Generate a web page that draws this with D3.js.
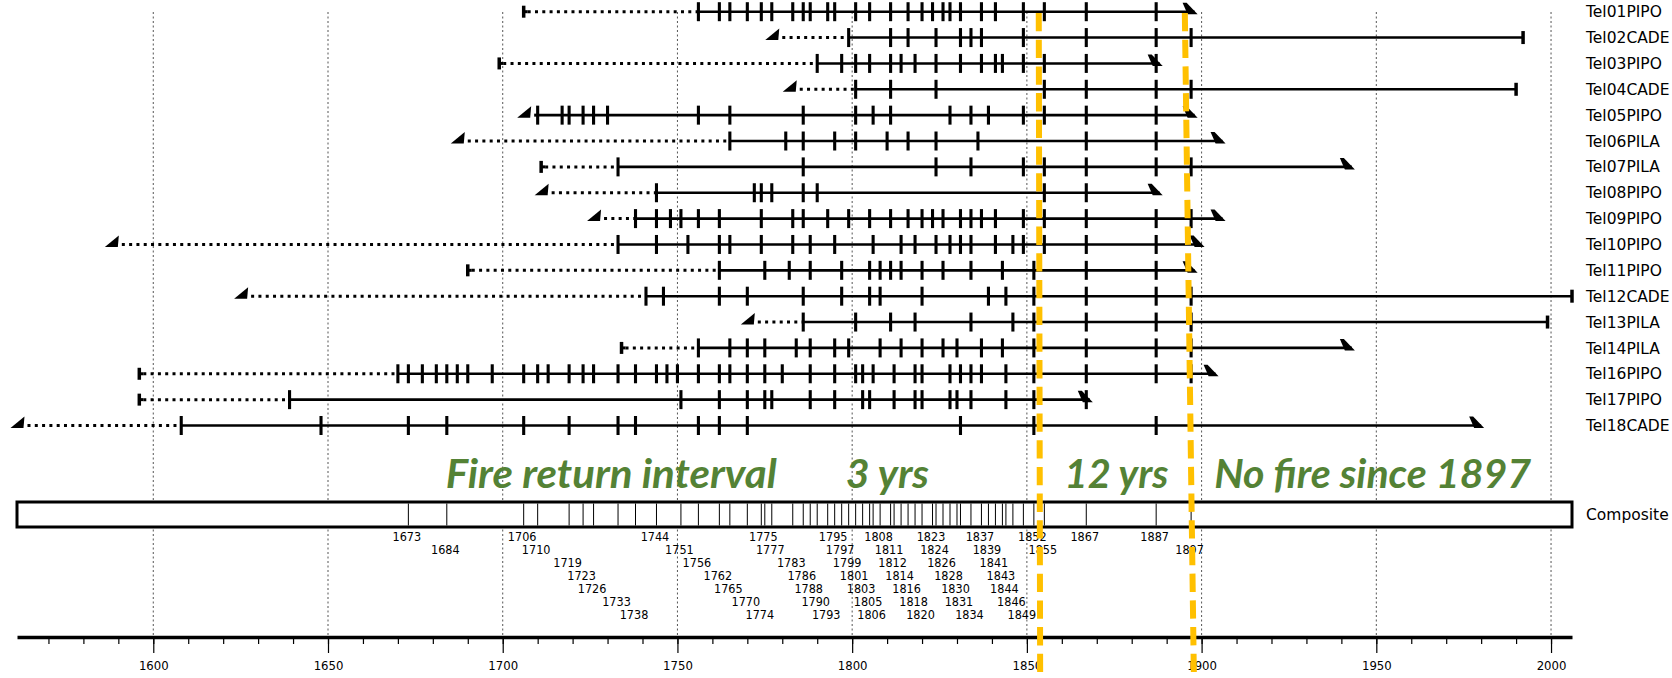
<!DOCTYPE html>
<html>
<head>
<meta charset="utf-8">
<script src="https://cdn.jsdelivr.net/npm/d3@7"></script>
<style>
  body { margin: 0; background: #fff; }
  svg { display: block; }
</style>
</head>
<body>
<div id="chart"></div>
<script>
// series, top to bottom
const seriesNames = ["Tel01PIPO", "Tel02CADE", "Tel03PIPO", "Tel04CADE", "Tel05PIPO", "Tel06PILA",
  "Tel07PILA", "Tel08PIPO", "Tel09PIPO", "Tel10PIPO", "Tel11PIPO", "Tel12CADE", "Tel13PILA",
  "Tel14PILA", "Tel16PIPO", "Tel17PIPO", "Tel18CADE"];
const innerYears = [1706, 1780, 1699, 1785, 1709, 1690, 1711, 1714, 1729, 1591, 1690, 1628, 1773, 1734, 1596, 1596, 1564];
const hasPith = [false, true, false, true, true, true, false, true, true, true, false, true, true, false, false, false, true];
const outerYears = [1898, 1992, 1888, 1990, 1898, 1906, 1943, 1888, 1906, 1900, 1898, 2006, 1999, 1943, 1904, 1868, 1980];
const hasBark = [false, true, false, true, false, false, false, false, false, false, false, true, true, false, false, false, false];
const fireScars = [
  [1756, 1762, 1765, 1770, 1774, 1777, 1783, 1786, 1788, 1793, 1795, 1801, 1805, 1811, 1816, 1820, 1823, 1826, 1828, 1831, 1837, 1841, 1849, 1855, 1867, 1887],
  [1799, 1811, 1816, 1824, 1831, 1834, 1837, 1849, 1867, 1887, 1897],
  [1790, 1797, 1801, 1805, 1811, 1814, 1818, 1824, 1831, 1837, 1841, 1843, 1849, 1855, 1867, 1887],
  [1801, 1811, 1824, 1855, 1867, 1887, 1897],
  [1710, 1717, 1719, 1723, 1726, 1730, 1756, 1765, 1786, 1801, 1806, 1811, 1828, 1834, 1839, 1849, 1855, 1867, 1887],
  [1765, 1781, 1786, 1795, 1801, 1810, 1816, 1824, 1836, 1867, 1887],
  [1733, 1786, 1824, 1834, 1849, 1855, 1867, 1887, 1897],
  [1744, 1772, 1774, 1777, 1786, 1790, 1855, 1867],
  [1738, 1744, 1748, 1751, 1756, 1762, 1774, 1783, 1786, 1793, 1799, 1805, 1811, 1816, 1820, 1823, 1826, 1831, 1834, 1837, 1841, 1849, 1855, 1867, 1887, 1897],
  [1733, 1744, 1753, 1762, 1765, 1774, 1783, 1788, 1795, 1806, 1814, 1818, 1824, 1828, 1831, 1834, 1841, 1846, 1849, 1855, 1867, 1887],
  [1762, 1775, 1782, 1788, 1797, 1805, 1808, 1811, 1814, 1820, 1826, 1834, 1843, 1852, 1867, 1887],
  [1741, 1746, 1762, 1770, 1786, 1797, 1805, 1808, 1820, 1839, 1844, 1852, 1867, 1887, 1897],
  [1786, 1801, 1811, 1818, 1834, 1846, 1852, 1867, 1887, 1897],
  [1756, 1765, 1770, 1775, 1784, 1788, 1795, 1799, 1808, 1814, 1820, 1826, 1830, 1837, 1843, 1852, 1867, 1887, 1897],
  [1670, 1673, 1677, 1681, 1684, 1687, 1690, 1697, 1706, 1710, 1713, 1719, 1723, 1726, 1733, 1738, 1744, 1747, 1750, 1756, 1762, 1765, 1770, 1775, 1780, 1788, 1795, 1801, 1803, 1806, 1812, 1818, 1820, 1828, 1831, 1834, 1837, 1844, 1852, 1867, 1887, 1897],
  [1639, 1751, 1762, 1770, 1775, 1777, 1788, 1795, 1803, 1805, 1812, 1818, 1820, 1828, 1830, 1834, 1844, 1852, 1867],
  [1608, 1648, 1673, 1684, 1706, 1719, 1733, 1738, 1756, 1762, 1770, 1831, 1852, 1887]
];
const compositeYears = [1673, 1684, 1706, 1710, 1719, 1723, 1726, 1733, 1738, 1744, 1751, 1756, 1762, 1765,
  1770, 1774, 1775, 1777, 1783, 1786, 1788, 1790, 1793, 1795, 1797, 1799, 1801, 1803, 1805, 1806, 1808,
  1811, 1812, 1814, 1816, 1818, 1820, 1823, 1824, 1826, 1828, 1830, 1831, 1834, 1837, 1839, 1841, 1843,
  1844, 1846, 1849, 1852, 1855, 1867, 1887, 1897];
// hand drawn orange markers: year at top, year at bottom
const markerYears = [[1853.4, 1853.8], [1895.2, 1897.8]];
const notes = ["Fire return interval", "3 yrs", "12 yrs", "No fire since 1897"];
const noteSpans = [[1683.7, 1778.4], [1798.2, 1822], [1860.8, 1890.5], [1903.6, 1994.3]];

const width = 1672, height = 678;
const svg = d3.select("#chart").append("svg")
  .attr("width", width)
  .attr("height", height);

const x = d3.scaleLinear().domain([1561, 2006]).range([17, 1572]);
const y = d3.scalePoint().domain(seriesNames).range([11.7, 425.5]);

const axisY = 637;
const boxTop = 502, boxBottom = 527;

// dotted grid every 50 years
svg.append("g")
  .selectAll("line")
  .data(d3.range(1600, 2001, 50))
  .join("line")
  .attr("x1", d => x(d)).attr("x2", d => x(d))
  .attr("y1", 12).attr("y2", axisY)
  .attr("stroke", "#555")
  .attr("stroke-width", 1)
  .attr("stroke-dasharray", "2,2.5");

// series
const rows = seriesNames.map((name, i) => ({
  name: name, inner: innerYears[i], pith: hasPith[i], outer: outerYears[i],
  bark: hasBark[i], scars: fireScars[i]
}));

const rowG = svg.append("g").selectAll("g")
  .data(rows)
  .join("g")
  .attr("transform", d => "translate(0," + y(d.name) + ")");

// non recording part
rowG.append("line")
  .attr("x1", d => x(d.inner) + (d.pith ? 0 : 4))
  .attr("x2", d => x(d.scars[0]))
  .attr("stroke", "#000")
  .attr("stroke-width", 3)
  .attr("stroke-dasharray", "3,4.3");

// recording part
rowG.append("line")
  .attr("x1", d => x(d.scars[0]))
  .attr("x2", d => x(d.outer))
  .attr("stroke", "#000")
  .attr("stroke-width", 2.6);

// fire scars
rowG.selectAll(".scar")
  .data(d => d.scars)
  .join("line")
  .attr("class", "scar")
  .attr("x1", d => x(d)).attr("x2", d => x(d))
  .attr("y1", -9.5).attr("y2", 9.5)
  .attr("stroke", "#000")
  .attr("stroke-width", 3.1);

// inner end: pith wedge or inner ring bar
rowG.filter(d => d.pith).append("path")
  .attr("d", d => {
    const px = x(d.inner);
    return `M${px - 17},2.5 L${px - 4},2.5 L${px - 3},-9 Z`;
  })
  .attr("fill", "#000");
rowG.filter(d => !d.pith).append("line")
  .attr("x1", d => x(d.inner)).attr("x2", d => x(d.inner))
  .attr("y1", -6).attr("y2", 6)
  .attr("stroke", "#000").attr("stroke-width", 3.5);
rowG.filter(d => !d.pith).append("line")
  .attr("x1", d => x(d.inner)).attr("x2", d => x(d.inner) + 4)
  .attr("stroke", "#000").attr("stroke-width", 3);

// outer end: bark bar or open wedge
rowG.filter(d => d.bark).append("line")
  .attr("x1", d => x(d.outer)).attr("x2", d => x(d.outer))
  .attr("y1", -6.5).attr("y2", 6.5)
  .attr("stroke", "#000").attr("stroke-width", 3.5);
rowG.filter(d => !d.bark).append("path")
  .attr("d", d => {
    const px = x(d.outer);
    return `M${px - 12},-9 L${px - 8},-9 L${px + 3},2.5 L${px - 7},2.5 Z`;
  })
  .attr("fill", "#000");

// series names
rowG.append("text")
  .attr("x", 1586)
  .attr("dy", "0.36em")
  .attr("font-family", "DejaVu Sans, Verdana, sans-serif")
  .attr("font-size", 15.5)
  .attr("fill", "#000")
  .text(d => d.name);

// composite
svg.append("rect")
  .attr("x", x(1561)).attr("y", boxTop)
  .attr("width", x(2006) - x(1561)).attr("height", boxBottom - boxTop)
  .attr("fill", "#fff")
  .attr("stroke", "#000")
  .attr("stroke-width", 3);

svg.append("g")
  .selectAll("line")
  .data(compositeYears)
  .join("line")
  .attr("x1", d => x(d)).attr("x2", d => x(d))
  .attr("y1", boxTop + 1.5).attr("y2", boxBottom - 1.5)
  .attr("stroke", "#000")
  .attr("stroke-width", 1);

svg.append("text")
  .attr("x", 1586).attr("y", (boxTop + boxBottom) / 2)
  .attr("dy", "0.36em")
  .attr("font-family", "DejaVu Sans, Verdana, sans-serif")
  .attr("font-size", 15.5)
  .text("Composite");

// stagger composite year labels over 7 rows
let row = 0;
const labelRows = compositeYears.map((yr, i) => {
  if (i === 0) return row;
  const gap = x(yr) - x(compositeYears[i - 1]);
  row = gap >= 40 ? 0 : (row + 1) % 7;
  return row;
});

svg.append("g")
  .selectAll("text")
  .data(compositeYears)
  .join("text")
  .attr("x", d => x(d) - 1.5)
  .attr("y", (d, i) => 536 + labelRows[i] * 13)
  .attr("dy", "0.36em")
  .attr("text-anchor", "middle")
  .attr("font-family", "DejaVu Sans Condensed, DejaVu Sans, sans-serif")
  .attr("font-stretch", "condensed")
  .attr("font-size", 12.5)
  .text(d => d);

// time axis
const minorAxis = svg.append("g")
  .attr("transform", "translate(0," + axisY + ")")
  .call(d3.axisBottom(x)
    .tickValues(d3.range(1570, 2001, 10))
    .tickSize(7)
    .tickSizeOuter(0)
    .tickFormat(""));
minorAxis.select(".domain").remove();
minorAxis.selectAll("line").attr("stroke-width", 1.2);

const majorAxis = svg.append("g")
  .attr("transform", "translate(0," + axisY + ")")
  .call(d3.axisBottom(x)
    .tickValues(d3.range(1600, 2001, 50))
    .tickSize(16)
    .tickSizeOuter(0)
    .tickPadding(8)
    .tickFormat(d3.format("d")));
majorAxis.select(".domain").attr("stroke-width", 3.5);
majorAxis.selectAll("line").attr("stroke-width", 1.2);
majorAxis.selectAll("text")
  .attr("font-family", "DejaVu Sans Condensed, DejaVu Sans, sans-serif")
  .attr("font-stretch", "condensed")
  .attr("font-size", 13)
  .attr("fill", "#000");

// annotations
svg.append("g")
  .selectAll("text")
  .data(notes)
  .join("text")
  .attr("x", (d, i) => x(noteSpans[i][0]))
  .attr("y", 488)
  .attr("textLength", (d, i) => x(noteSpans[i][1]) - x(noteSpans[i][0]))
  .attr("lengthAdjust", "spacingAndGlyphs")
  .attr("font-family", "Lato, Open Sans, sans-serif")
  .attr("font-weight", "bold")
  .attr("font-style", "italic")
  .attr("font-size", 40)
  .attr("fill", "#548235")
  .text(d => d);

svg.append("g")
  .selectAll("line")
  .data(markerYears)
  .join("line")
  .attr("x1", d => x(d[0])).attr("x2", d => x(d[1]))
  .attr("y1", 13).attr("y2", height)
  .attr("stroke", "#ffc000")
  .attr("stroke-width", 6)
  .attr("stroke-dasharray", "18.3,8.4");
</script>
</body>
</html>
